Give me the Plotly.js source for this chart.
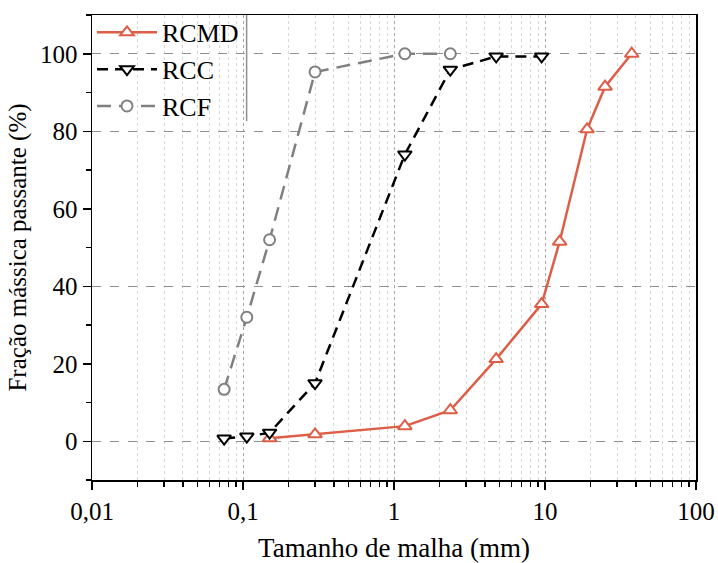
<!DOCTYPE html>
<html>
<head>
<meta charset="utf-8">
<script src="https://cdn.plot.ly/plotly-3.0.1.min.js"></script>
<style>html,body{margin:0;padding:0;background:#fff;}#chart{width:718px;height:563px;}</style>
</head>
<body>
<div id="chart"></div>
<script>
// Data (mesh size in mm, % passing)
const rcmdX = [0.15, 0.3, 1.18, 2.36, 4.75, 9.5, 12.5, 19, 25, 37.5];
const rcmdY = [0.8, 1.8, 3.9, 8.0, 21.2, 35.4, 51.5, 80.5, 91.5, 100];
const rccX = [0.075, 0.106, 0.15, 0.3, 1.18, 2.36, 4.75, 9.5];
const rccY = [0.7, 1.2, 2.2, 15.0, 74.0, 95.9, 99.3, 99.3];
const rcfX = [0.075, 0.106, 0.15, 0.3, 1.18, 2.36];
const rcfY = [13.4, 32.0, 52.0, 95.3, 100, 100];
const seriesNames = ["RCMD", "RCC", "RCF"];
const xTickVals = [0.01, 0.1, 1, 10, 100];
const xTickText = ["0,01", "0,1", "1", "10", "100"];
const yTickVals = [0, 20, 40, 60, 80, 100];
const yGridVals = [0, 40, 80, 100];

// minor log ticks: 2..9 in each decade
const xMinorVals = [];
for (let i = 0; i < xTickVals.length - 1; i++) {
  for (let m = 2; m <= 9; m++) xMinorVals.push(+(xTickVals[i] * m).toPrecision(3));
}

const font = "Liberation Serif, Times New Roman, serif";

const traces = [
  {x: rcmdX, y: rcmdY, name: seriesNames[0], mode: "lines+markers",
   line: {color: "#DE5D47", width: 2.5},
   marker: {size: 12, symbol: "triangle-up", color: "white", line: {color: "#DE5D47", width: 2}}},
  {x: rccX, y: rccY, name: seriesNames[1], mode: "lines+markers",
   line: {color: "#000000", width: 2.5, dash: "11px,7px"},
   marker: {size: 12, symbol: "triangle-down", color: "white", line: {color: "#000000", width: 2}}},
  {x: rcfX, y: rcfY, name: seriesNames[2], mode: "lines+markers",
   line: {color: "#808080", width: 2.5, dash: "14px,8px"},
   marker: {size: 11, symbol: "circle", color: "white", line: {color: "#808080", width: 2}}}
];
// dummy trace to activate yaxis2 grid
traces.push({x: [0.01], y: [null], yaxis: "y2", showlegend: false, hoverinfo: "skip", mode: "markers"});

const layout = {
  width: 718, height: 563,
  margin: {l: 92, r: 22, t: 15, b: 83, autoexpand: false},
  paper_bgcolor: "white", plot_bgcolor: "white",
  font: {family: font, color: "#000", size: 24},
  showlegend: true,
  legend: {x: 0, y: 1.013, xanchor: "left", yanchor: "top", bgcolor: "rgba(0,0,0,0)",
           font: {family: font, size: 26, color: "#000"}, itemwidth: 60, tracegroupgap: 0},
  xaxis: {
    type: "log", range: [-2, 2],
    tickmode: "array", tickvals: xTickVals, ticktext: xTickText,
    ticks: "outside", ticklen: 8, tickwidth: 1.5, tickcolor: "#000",
    showline: true, linecolor: "#000", linewidth: 1.5, mirror: true,
    showgrid: true, gridcolor: "#a8a8a8", griddash: "dot", gridwidth: 1,
    zeroline: false, automargin: false,
    minor: {tickmode: "array", tickvals: xMinorVals, ticks: "outside", ticklen: 5, tickwidth: 1.2, tickcolor: "#000",
            showgrid: true, gridcolor: "#d8d8d8", griddash: "dot", gridwidth: 1},
    tickfont: {family: font, size: 25},
    title: {text: "Tamanho de malha (mm)", font: {family: font, size: 27}, standoff: 14}
  },
  yaxis: {
    range: [-10, 110], tickmode: "array", tickvals: yTickVals,
    ticks: "outside", ticklen: 8, tickwidth: 1.5, tickcolor: "#000",
    showline: true, linecolor: "#000", linewidth: 1.5, mirror: true,
    showgrid: false, zeroline: false, automargin: false,
    minor: {ticks: "outside", ticklen: 5, tickwidth: 1.2, tickcolor: "#000", dtick: 10, showgrid: false},
    tickfont: {family: font, size: 25},
    title: {text: "Fração mássica passante (%)", font: {family: font, size: 25}, standoff: 6}
  },
  yaxis2: {
    overlaying: "y", range: [-10, 110], tickmode: "array", tickvals: yGridVals,
    showticklabels: false, ticks: "", showline: false, zeroline: false,
    showgrid: true, gridcolor: "#909090", griddash: "dash", gridwidth: 1
  },
  shapes: [
    {type: "rect", xref: "paper", yref: "paper", x0: 0, x1: 0.256, y0: 0.772, y1: 1,
     fillcolor: "white", line: {width: 0}, layer: "below"},
    {type: "line", xref: "paper", yref: "paper", x0: 0.256, x1: 0.256, y0: 0.772, y1: 1,
     line: {color: "#909090", width: 1.5}}
  ]
};

Plotly.newPlot("chart", traces, layout, {displayModeBar: false, staticPlot: true});
</script>
</body>
</html>
